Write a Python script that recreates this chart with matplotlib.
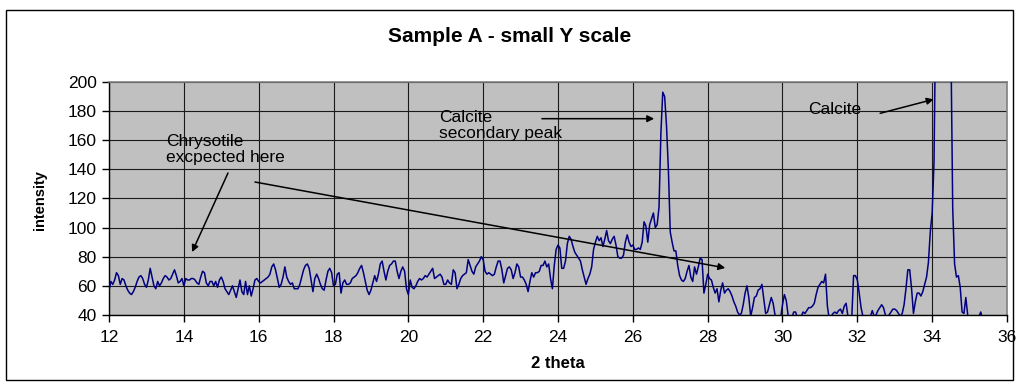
import numpy as np
import matplotlib.pyplot as plt
from matplotlib.patches import Rectangle

plt.rcParams["font.family"] = ["Liberation Sans", "DejaVu Sans"]

# XRD scan: start angle, step width, counts (one row per degree)
scan_start = 12.0
scan_step = 0.05
intensity = [
    57, 63, 61, 64, 69, 67, 61, 65, 64, 60, 57, 55, 54, 56, 59, 63, 66, 67, 65, 61,  # 12
    59, 64, 72, 66, 60, 58, 63, 60, 62, 65, 67, 66, 64, 65, 68, 71, 67, 62, 63, 65,  # 13
    60, 65, 64, 64, 65, 65, 64, 62, 61, 66, 70, 69, 62, 60, 63, 63, 60, 63, 59, 64,  # 14
    66, 63, 58, 56, 54, 57, 60, 56, 52, 58, 64, 56, 54, 63, 54, 60, 53, 58, 64, 65,  # 15
    63, 62, 63, 64, 65, 66, 68, 73, 75, 71, 65, 59, 61, 66, 73, 66, 63, 61, 62, 58,  # 16
    58, 58, 61, 66, 71, 74, 75, 72, 64, 56, 65, 68, 65, 61, 58, 57, 64, 70, 72, 69,  # 17
    60, 61, 68, 69, 55, 62, 64, 61, 61, 62, 65, 66, 67, 69, 72, 74, 69, 63, 57, 54,  # 18
    57, 62, 67, 63, 68, 75, 77, 70, 64, 70, 74, 75, 77, 77, 70, 65, 70, 73, 70, 58,  # 19
    54, 64, 59, 58, 60, 63, 65, 64, 65, 67, 66, 68, 70, 72, 65, 66, 67, 68, 66, 61,  # 20
    61, 64, 62, 61, 71, 69, 58, 61, 65, 67, 68, 69, 78, 74, 70, 68, 73, 75, 77, 80,  # 21
    78, 70, 68, 69, 68, 67, 68, 73, 77, 77, 71, 62, 67, 72, 73, 71, 65, 69, 75, 73,  # 22
    66, 66, 64, 61, 56, 63, 69, 66, 69, 69, 70, 74, 74, 77, 73, 75, 65, 58, 74, 85,  # 23
    88, 86, 72, 72, 77, 89, 94, 92, 87, 83, 81, 79, 77, 71, 66, 61, 65, 68, 73, 85,  # 24
    90, 94, 91, 93, 87, 92, 98, 91, 89, 92, 94, 88, 80, 79, 79, 81, 90, 95, 90, 87,  # 25
    88, 85, 85, 86, 85, 90, 104, 101, 90, 102, 106, 110, 100, 102, 114, 165, 193, 190, 170, 140,  # 26
    97, 90, 84, 84, 74, 67, 64, 63, 65, 70, 74, 66, 63, 73, 68, 73, 79, 78, 55, 61,  # 27
    68, 65, 64, 59, 55, 58, 49, 57, 62, 55, 57, 58, 56, 53, 49, 46, 42, 40, 41, 47,  # 28
    55, 60, 52, 39, 45, 52, 53, 57, 58, 61, 51, 41, 42, 47, 52, 48, 40, 37, 36, 38,  # 29
    47, 54, 50, 40, 36, 38, 42, 42, 38, 37, 39, 42, 41, 43, 45, 45, 46, 48, 54, 59,  # 30
    61, 63, 62, 68, 46, 37, 39, 41, 42, 41, 43, 44, 41, 46, 48, 39, 37, 37, 67, 67,  # 31
    64, 55, 45, 39, 37, 36, 37, 39, 43, 39, 40, 43, 45, 47, 45, 40, 39, 40, 42, 44,  # 32
    44, 43, 41, 39, 41, 47, 58, 71, 71, 58, 41, 49, 55, 55, 53, 56, 61, 66, 76, 97,  # 33
    110, 145, 260, 420, 580, 690, 720, 640, 500, 360, 230, 113, 75, 66, 67, 59, 42, 41, 52, 40,  # 34
    36, 35, 34, 35, 36, 39, 42, 36,  # 35
]
two_theta = np.round(scan_start + scan_step * np.arange(len(intensity)), 2)

x_ticks = list(range(12, 37, 2))
y_ticks = list(range(40, 201, 20))

fig = plt.figure(figsize=(10.19, 3.85), dpi=100)
fig.patch.set_facecolor("white")
fig.add_artist(Rectangle((0.006, 0.013), 0.988, 0.961, transform=fig.transFigure,
                         fill=False, edgecolor="black", linewidth=1.0))

ax = fig.add_axes([0.107, 0.182, 0.8812, 0.605])
ax.set_facecolor("#c0c0c0")
ax.plot(two_theta, intensity, color="#000080", linewidth=1.1, zorder=3)

ax.set_xlim(12, 36)
ax.set_ylim(40, 200)
ax.set_xticks(x_ticks)
ax.set_yticks(y_ticks)
ax.grid(True, color="#1a1a1a", linewidth=0.8, zorder=1)
ax.set_axisbelow(True)
for side in ("top", "right"):
    ax.spines[side].set_color("#808080")
    ax.spines[side].set_linewidth(1.2)
for side in ("left", "bottom"):
    ax.spines[side].set_color("black")
    ax.spines[side].set_linewidth(1.0)
ax.tick_params(axis="both", direction="out", length=5, width=1, labelsize=12.5,
               colors="black")
ax.tick_params(axis="y", pad=4)
ax.tick_params(axis="x", pad=6)

fig.text(558 / 1019, 1 - 364 / 385, "2 theta", fontsize=12, fontweight="bold",
         ha="center", va="center")
fig.text(40 / 1019, 1 - 200 / 385, "intensity", fontsize=10.5, fontweight="bold",
         rotation=90, ha="center", va="center")
fig.text(0.5, 1 - 37 / 385, "Sample A - small Y scale", fontsize=15,
         fontweight="bold", ha="center", va="center")

arrow = dict(arrowstyle="-|>", color="black", linewidth=1.1, mutation_scale=10,
             shrinkA=0, shrinkB=0)
ax.text(13.52, 153.6, "Chrysotile\nexcpected here", fontsize=12.5, va="center",
        linespacing=1.1)
ax.annotate("", xy=(14.22, 83.2), xytext=(15.18, 137.5), arrowprops=arrow)
ax.annotate("", xy=(28.47, 72.3), xytext=(15.90, 131.3), arrowprops=arrow)

ax.text(20.82, 170.1, "Calcite\nsecondary peak", fontsize=12.5, va="center",
        linespacing=1.1)
ax.annotate("", xy=(26.57, 174.8), xytext=(23.57, 174.8), arrowprops=arrow)

ax.text(30.69, 180.8, "Calcite", fontsize=12.5, va="center")
ax.annotate("", xy=(34.04, 188.1), xytext=(32.61, 178.5), arrowprops=arrow)

fig.savefig("out.png", dpi=100)
